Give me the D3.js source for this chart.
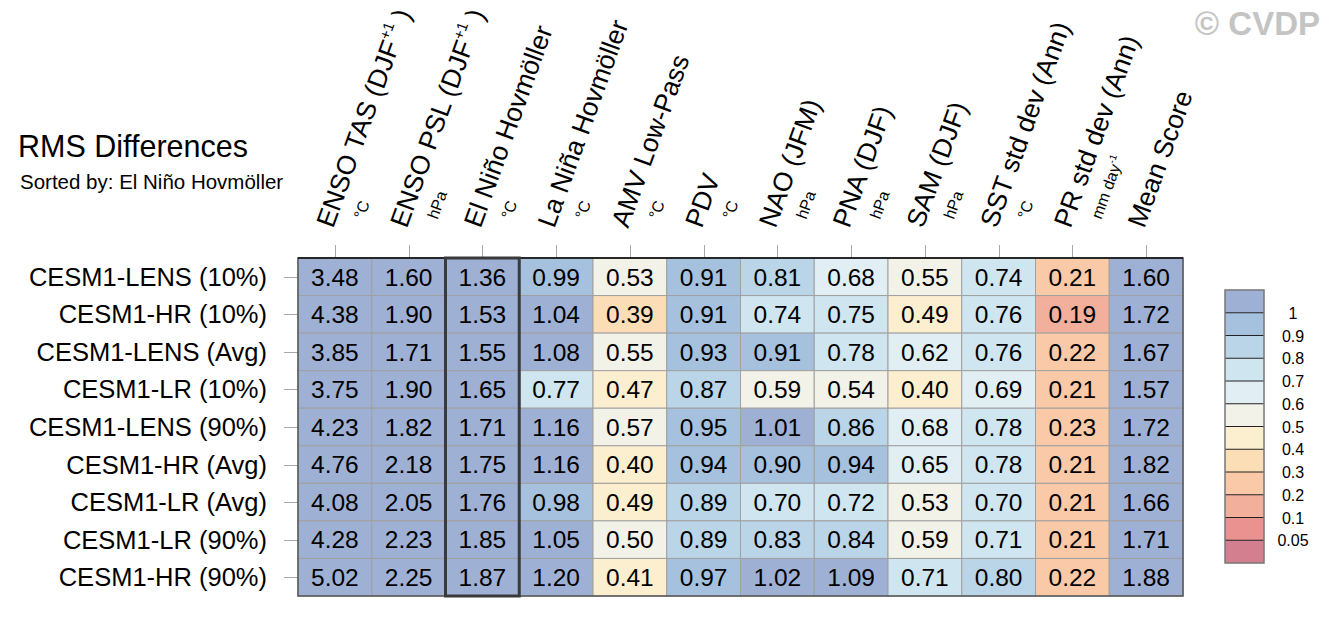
<!DOCTYPE html>
<html><head><meta charset="utf-8">
<script src="https://cdn.jsdelivr.net/npm/d3@7"></script>
<style>
body{margin:0;background:#fff;}
text{font-family:"Liberation Sans",Arial,Helvetica,sans-serif;}
</style></head>
<body>
<svg id="chart" width="1330" height="617"></svg>
<script>
const columns = ["ENSO TAS (DJF+1)","ENSO PSL (DJF+1)","El Niño Hovmöller","La Niña Hovmöller","AMV Low-Pass","PDV","NAO (JFM)","PNA (DJF)","SAM (DJF)","SST std dev (Ann)","PR std dev (Ann)","Mean Score"];
const units = ["°C","hPa","°C","°C","°C","°C","hPa","hPa","hPa","°C","mm day-1",""];
const rowNames = ["CESM1-LENS (10%)","CESM1-HR (10%)","CESM1-LENS (Avg)","CESM1-LR (10%)","CESM1-LENS (90%)","CESM1-HR (Avg)","CESM1-LR (Avg)","CESM1-LR (90%)","CESM1-HR (90%)"];
const rowLENS10 = [3.48,1.60,1.36,0.99,0.53,0.91,0.81,0.68,0.55,0.74,0.21,1.60];
const rowHR10   = [4.38,1.90,1.53,1.04,0.39,0.91,0.74,0.75,0.49,0.76,0.19,1.72];
const rowLENSAvg= [3.85,1.71,1.55,1.08,0.55,0.93,0.91,0.78,0.62,0.76,0.22,1.67];
const rowLR10   = [3.75,1.90,1.65,0.77,0.47,0.87,0.59,0.54,0.40,0.69,0.21,1.57];
const rowLENS90 = [4.23,1.82,1.71,1.16,0.57,0.95,1.01,0.86,0.68,0.78,0.23,1.72];
const rowHRAvg  = [4.76,2.18,1.75,1.16,0.40,0.94,0.90,0.94,0.65,0.78,0.21,1.82];
const rowLRAvg  = [4.08,2.05,1.76,0.98,0.49,0.89,0.70,0.72,0.53,0.70,0.21,1.66];
const rowLR90   = [4.28,2.23,1.85,1.05,0.50,0.89,0.83,0.84,0.59,0.71,0.21,1.71];
const rowHR90   = [5.02,2.25,1.87,1.20,0.41,0.97,1.02,1.09,0.71,0.80,0.22,1.88];
const values = [rowLENS10,rowHR10,rowLENSAvg,rowLR10,rowLENS90,rowHRAvg,rowLRAvg,rowLR90,rowHR90];
const thresholds = [0.05,0.1,0.2,0.3,0.4,0.5,0.6,0.7,0.8,0.9,1];
const binColors = ["#d47f8f","#e9928f","#f2af9c","#facaa8","#fcdeb6","#fcefcf","#f2f2e9","#e1eff5","#cfe5ef","#bad5e8","#a6c1dd","#9fb0d5"];
const legendLabels = ["1","0.9","0.8","0.7","0.6","0.5","0.4","0.3","0.2","0.1","0.05"];
const sortedColumn = "El Niño Hovmöller";

const svg = d3.select("#chart");
const color = d3.scaleThreshold().domain(thresholds).range(binColors);
const x = d3.scaleBand().domain(columns).range([298,1183]);
const y = d3.scaleBand().domain(rowNames).range([258,596]);

// watermark
svg.append("text").attr("x",1320).attr("y",35).attr("text-anchor","end")
  .attr("font-size",33).attr("font-weight","bold").attr("fill","#c4c4c4").text("© CVDP");

// titles
svg.append("text").attr("x",18).attr("y",157).attr("font-size",30.5).attr("fill","#000").text("RMS Differences");
svg.append("text").attr("x",20).attr("y",189).attr("font-size",20.5).attr("fill","#000").text("Sorted by: " + sortedColumn);

// ticks
const tickG = svg.append("g").attr("stroke","#a8a8a8").attr("stroke-width",1);
columns.forEach(c=>{
  const cx = Math.round(x(c)+x.bandwidth()/2)+0.5;
  tickG.append("line").attr("x1",cx).attr("x2",cx).attr("y1",245).attr("y2",258);
});
rowNames.forEach(r=>{
  const cy = Math.round(y(r)+y.bandwidth()/2)+0.5;
  tickG.append("line").attr("x1",284).attr("x2",298).attr("y1",cy).attr("y2",cy);
});

// cells
const cells = [];
values.forEach((row,i)=>row.forEach((v,j)=>cells.push({r:rowNames[i],c:columns[j],v})));
svg.append("g").selectAll("rect").data(cells).join("rect")
  .attr("x",d=>x(d.c)).attr("y",d=>y(d.r)).attr("width",x.bandwidth()).attr("height",y.bandwidth())
  .attr("fill",d=>color(d.v)).attr("stroke","#a0a0a0").attr("stroke-width",1);
svg.append("g").selectAll("text").data(cells).join("text")
  .attr("x",d=>x(d.c)+x.bandwidth()/2).attr("y",d=>y(d.r)+y.bandwidth()/2+8.8)
  .attr("text-anchor","middle").attr("font-size",24.5).attr("fill","#000")
  .text(d=>d.v.toFixed(2));

// outer border
svg.append("rect").attr("x",298).attr("y",258).attr("width",885).attr("height",338)
  .attr("fill","none").attr("stroke","#555").attr("stroke-width",1.5);
svg.append("line").attr("x1",298).attr("x2",1183).attr("y1",258).attr("y2",258).attr("stroke","#111").attr("stroke-width",1.5);
// sorted column highlight
svg.append("rect").attr("x",x(sortedColumn)).attr("y",258).attr("width",x.bandwidth()).attr("height",338)
  .attr("fill","none").attr("stroke","#3a3a3a").attr("stroke-width",3);

// row labels
svg.append("g").selectAll("text").data(rowNames).join("text")
  .attr("x",267).attr("y",d=>y(d)+y.bandwidth()/2+9).attr("text-anchor","end")
  .attr("font-size",25.5).attr("fill","#000").text(d=>d);

// column headers
const angle = -70;
columns.forEach((c,j)=>{
  const sx = x(c)+x.bandwidth()/2 - 2, sy = 229;
  const g = svg.append("g").attr("transform",`translate(${sx},${sy}) rotate(${angle})`);
  const t = g.append("text").attr("x",0).attr("y",0).attr("font-size",26.5).attr("fill","#000");
  const m = c.match(/^(.*)\+1\)$/);
  if(m){
    t.append("tspan").text(m[1]);
    t.append("tspan").attr("font-size",15).attr("dy",-12).text("+1");
    t.append("tspan").attr("dy",12).text(" )");
  } else t.text(c);
  const u = units[j];
  if(u){
    const ut = g.append("text").attr("x",19).attr("y",26).attr("font-size",16).attr("fill","#000");
    const um = u.match(/^(.*)-1$/);
    if(um){
      ut.append("tspan").text(um[1]);
      ut.append("tspan").attr("font-size",10).attr("dy",-7).text("-1");
    } else ut.text(u);
  }
});

// legend
const lg = d3.scaleBand().domain(d3.range(binColors.length)).range([290,563]);
const legColors = binColors.slice().reverse();
svg.append("g").selectAll("rect").data(legColors).join("rect")
  .attr("x",1225).attr("y",(d,i)=>lg(i)).attr("width",39).attr("height",lg.bandwidth())
  .attr("fill",d=>d);
svg.append("g").selectAll("line").data(legendLabels).join("line")
  .attr("x1",1225).attr("x2",1264).attr("y1",(d,i)=>lg(i+1)).attr("y2",(d,i)=>lg(i+1))
  .attr("stroke","#222").attr("stroke-width",1);
svg.append("rect").attr("x",1225).attr("y",290).attr("width",39).attr("height",273)
  .attr("fill","none").attr("stroke","#777").attr("stroke-width",1.5);
svg.append("g").selectAll("text").data(legendLabels).join("text")
  .attr("x",1293).attr("y",(d,i)=>lg(i+1)+6).attr("text-anchor","middle")
  .attr("font-size",16).attr("fill","#000").text(d=>d);
</script>
</body></html>
